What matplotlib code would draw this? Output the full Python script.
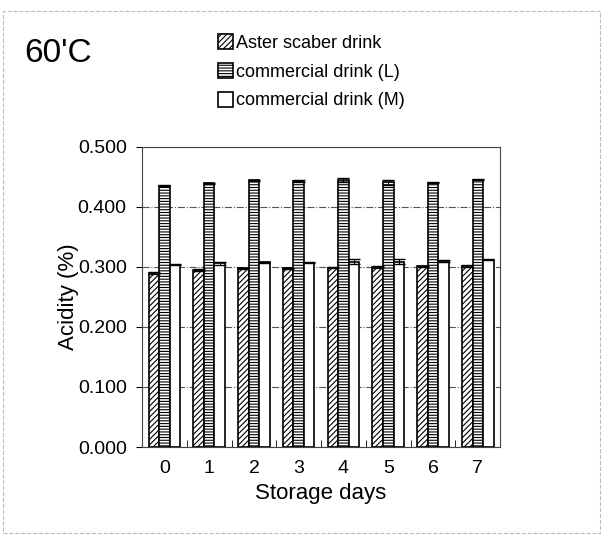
import numpy as np
import matplotlib.pyplot as plt
from matplotlib.patches import Rectangle

plt.rcParams['font.family'] = ['Liberation Sans', 'DejaVu Sans']
plt.rcParams['hatch.linewidth'] = 0.8

# Δεδομένα
days = ['0', '1', '2', '3', '4', '5', '6', '7']
aster = [0.290, 0.295, 0.298, 0.298, 0.299, 0.300, 0.301, 0.302]
aster_err = [0.001, 0.001, 0.001, 0.001, 0.001, 0.001, 0.001, 0.002]
drink_l = [0.435, 0.439, 0.444, 0.443, 0.445, 0.441, 0.440, 0.445]
drink_l_err = [0.001, 0.001, 0.001, 0.001, 0.003, 0.004, 0.001, 0.001]
drink_m = [0.304, 0.306, 0.308, 0.307, 0.309, 0.309, 0.310, 0.312]
drink_m_err = [0.001, 0.002, 0.001, 0.001, 0.004, 0.004, 0.001, 0.001]
yticks = [0.0, 0.1, 0.2, 0.3, 0.4, 0.5]

fig = plt.figure(figsize=(6.03, 5.36), dpi=100)
ax = fig.add_axes([0.2355, 0.166, 0.594, 0.560])

x = np.arange(len(days))
w = 0.235
kw = dict(edgecolor='black', linewidth=1.2, zorder=3)
ekw = dict(ecolor='black', capsize=4, elinewidth=0.8, capthick=1.0)
ax.bar(x - w, aster, w, yerr=aster_err, facecolor='white', hatch='//////',
       label='Aster scaber drink', error_kw=ekw, **kw)
ax.bar(x, drink_l, w, yerr=drink_l_err, facecolor='white', hatch='------',
       label='commercial drink (L)', error_kw=ekw, **kw)
ax.bar(x + w, drink_m, w, yerr=drink_m_err, facecolor='white',
       label='commercial drink (M)', error_kw=ekw, **kw)

ax.set_ylim(0, 0.5)
ax.set_xlim(-0.5, len(days) - 0.5)
ax.set_yticks(yticks)
ax.set_yticklabels([f'{v:.3f}' for v in yticks], fontsize=14)
ax.set_xticks(x)
ax.set_xticklabels(days, fontsize=14)
ax.set_xticks(x[:-1] + 0.5, minor=True)
ax.tick_params(axis='x', which='major', length=0, pad=9)
ax.tick_params(axis='x', which='minor', direction='in', length=5)
ax.tick_params(axis='y', direction='out', length=4, pad=7)
ax.yaxis.grid(True, color='#555555', linestyle='-.', linewidth=0.8)
ax.set_axisbelow(True)
for s in ax.spines.values():
    s.set_color('#444444')

ax.set_ylabel('Acidity (%)', fontsize=16, labelpad=-1)
ax.set_xlabel('Storage days', fontsize=16, labelpad=5)

fig.text(0.04, 0.9, "60'C", fontsize=24, va='center', ha='left')
fig.legend(loc='upper left', bbox_to_anchor=(0.335, 0.966), frameon=False,
           fontsize=13, handlelength=0.8, handleheight=0.9, handletextpad=0.2,
           labelspacing=0.6)

fig.patches.append(Rectangle((0.005, 0.005), 0.99, 0.975, transform=fig.transFigure,
                             fill=False, edgecolor='#bbbbbb', linewidth=0.8,
                             linestyle='--'))

fig.savefig('out.png', dpi=100)
